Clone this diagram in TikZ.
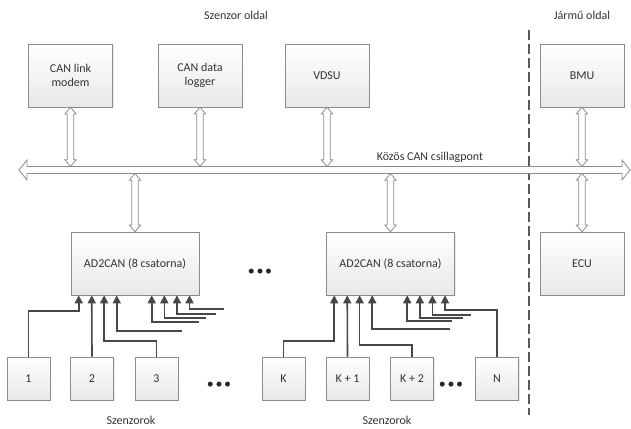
\documentclass[tikz,border=0pt]{standalone}
\usepackage{fontspec}
\setmainfont{Carlito}
\usetikzlibrary{arrows.meta,calc,shadows}

\tikzset{
  doboz/.style={draw=black!45, top color=white, bottom color=black!9, align=center,
    inner sep=0pt, text=black!80,
    drop shadow={opacity=0.15, shadow xshift=0.8pt, shadow yshift=-0.8pt}},
  felso/.style={doboz, minimum width=63pt, minimum height=47.25pt},
  atalakito/.style={doboz, minimum width=96pt, minimum height=47.25pt},
  szenzor/.style={doboz, minimum width=32.25pt, minimum height=32.25pt},
  felirat/.style={text=black!80},
  pontok/.style={text=black!85, inner sep=0pt, font=\fontsize{10.5}{10.5}\selectfont},
  vezetek/.style={draw=black!72, line width=1.2pt, -{Triangle[length=6pt,width=6pt]}},
  nyil/.style={draw=black!45, fill=white, line width=0.6pt, line join=miter},
  valaszto/.style={draw=black!65, line width=1.5pt, dash pattern=on 7.5pt off 3pt}
}

% ketiranyu CAN nyil (felso pont, also pont)
\newcommand{\kettosnyil}[2]{%
  \draw[nyil] let \p1=(#1), \p2=(#2) in
    (\p1) -- ({\x1+4.2pt},{\y1-5pt}) -- ({\x1+2.4pt},{\y1-5pt})
    -- ({\x1+2.4pt},{\y2+5pt}) -- ({\x1+4.2pt},{\y2+5pt}) -- (\p2)
    -- ({\x1-4.2pt},{\y2+5pt}) -- ({\x1-2.4pt},{\y2+5pt})
    -- ({\x1-2.4pt},{\y1-5pt}) -- ({\x1-4.2pt},{\y1-5pt}) -- cycle;}

\begin{document}
\begin{tikzpicture}[x=0.75pt, y=-0.75pt, font=\fontsize{9}{11}\selectfont]
        \useasboundingbox (0,0) rectangle (631,428);

        % Feliratok
        \node[felirat] (szoldal) at (236,15) {Szenzor oldal};
        \node[felirat] (joldal) at (582,15) {Jármű oldal};

        % Elvalaszto
        \coordinate (divT) at (529,30);
        \coordinate (divB) at (529,415);
        \draw[valaszto] (divT) -- (divB);

        % Felso egysegek
        \node[felso] (modem) at (70.5,75.5) {CAN link\\modem};
        \node[felso] (logger) at (200,75.5) {CAN data\\logger};
        \node[felso] (vdsu) at (327,75.5) {VDSU};
        \node[felso] (bmu) at (582,75.5) {BMU};

        % AD2CAN egysegek es ECU
        \node[atalakito] (a1) at (135,263.5) {AD2CAN (8 csatorna)};
        \node[atalakito] (a2) at (390.5,263.5) {AD2CAN (8 csatorna)};
        \node[felso] (ecu) at (582,263.5) {ECU};
        \node[pontok] (p1) at (260,272) {•\kern1.2pt•\kern1.2pt•};

        % Kozos CAN busz
        \coordinate (buszB) at (19,170);
        \coordinate (buszJ) at (630,170);
        \coordinate (buszfelso) at (0,166.5);
        \coordinate (buszalso) at (0,173.5);
        \draw[nyil] let \p1=(buszB), \p2=(buszJ) in
            (\p1) -- ({\x1+6pt},{\y1+7.5pt}) -- ({\x1+6pt},{\y1+2.6pt})
            -- ({\x2-6pt},{\y1+2.6pt}) -- ({\x2-6pt},{\y1+7.5pt}) -- (\p2)
            -- ({\x2-6pt},{\y1-7.5pt}) -- ({\x2-6pt},{\y1-2.6pt})
            -- ({\x1+6pt},{\y1-2.6pt}) -- ({\x1+6pt},{\y1-7.5pt}) -- cycle;
        \node[felirat] (busz) at (430,157) {Közös CAN csillagpont};

        % Csatlakozasok a buszra
        \kettosnyil{modem.south}{modem.south |- buszfelso}
        \kettosnyil{logger.south}{logger.south |- buszfelso}
        \kettosnyil{vdsu.south}{vdsu.south |- buszfelso}
        \kettosnyil{bmu.south}{bmu.south |- buszfelso}
        \kettosnyil{a1.north |- buszalso}{a1.north}
        \kettosnyil{a2.north |- buszalso}{a2.north}
        \kettosnyil{ecu.north |- buszalso}{ecu.north}

        % Szenzorok
        \node[szenzor] (s1) at (28.5,378.5) {1};
        \node[szenzor] (s2) at (92,378.5) {2};
        \node[szenzor] (s3) at (156.5,378.5) {3};
        \node[pontok] (p2) at (219,385) {•\kern1.2pt•\kern1.2pt•};
        \node[szenzor] (sK) at (283.5,378.5) {K};
        \node[szenzor] (sK1) at (347.5,378.5) {K + 1};
        \node[szenzor] (sK2) at (412,378.5) {K + 2};
        \node[pontok] (p3) at (451,385) {•\kern1.2pt•\kern1.2pt•};
        \node[szenzor] (sN) at (497,378.5) {N};
        \node[felirat] (szenz1) at (131,420) {Szenzorok};
        \node[felirat] (szenz2) at (387,420) {Szenzorok};

        % Bemenetek
        \foreach \i/\dx in {1/8,2/21,3/33.4,4/46,5/81,6/93.6,7/106.2,8/118.8}{
            \coordinate (a1in\i) at ($(a1.south west)+(\dx,0)$);
            \coordinate (a2in\i) at ($(a2.south west)+(\dx,0)$);
        }

        % Vezetekek (1. AD2CAN)
        \draw[vezetek] (s1.north) -- ++(0,-46) -| (a1in1);
        \draw[vezetek] (s2.north) -- (a1in2);
        \draw[vezetek] (s3.north) -- ++(0,-16) -| (a1in3);
        \foreach \i/\dx/\dy in {4/65/36,5/47/27,6/42/23,7/39/19,8/34/14}{
            \coordinate (v1\i) at ($(a1in\i)+(\dx,\dy)$);
            \draw[vezetek] (v1\i) -| (a1in\i);
        }

        % Vezetekek (2. AD2CAN)
        \draw[vezetek] (sK.north) -- ++(0,-16) -| (a2in1);
        \draw[vezetek] (sK1.north) -- (a2in2);
        \draw[vezetek] (sK2.north) -- ++(0,-12) -| (a2in3);
        \foreach \i/\dx/\dy in {4/78/34,5/45/26,6/43/23,7/39/20}{
            \coordinate (v2\i) at ($(a2in\i)+(\dx,\dy)$);
            \draw[vezetek] (v2\i) -| (a2in\i);
        }
        \draw[vezetek] (sN.north) -- ++(0,-47) -| (a2in8);

    \end{tikzpicture}
\end{document}
